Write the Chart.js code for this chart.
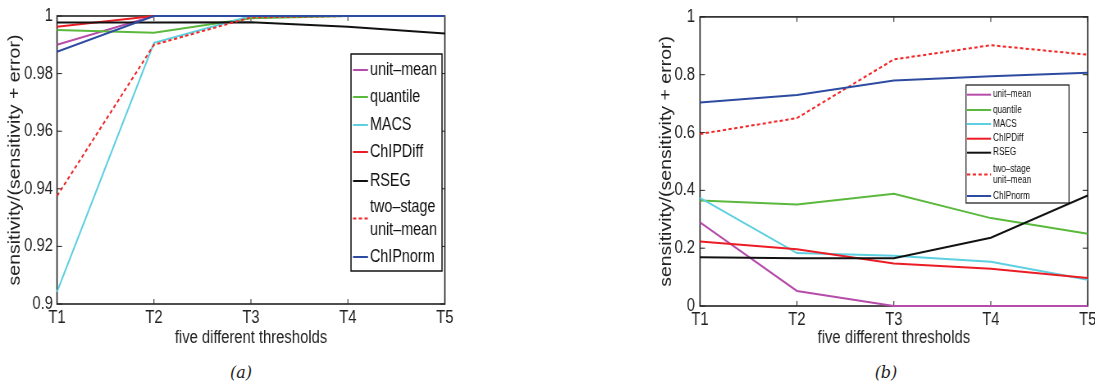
<!DOCTYPE html>
<html>
<head>
<meta charset="utf-8">
<script src="https://cdn.jsdelivr.net/npm/chart.js@4/dist/chart.umd.min.js"></script>
<style>
  html, body { margin: 0; padding: 0; background: #fff; overflow: hidden; }
  body { width: 1095px; height: 382px; position: relative; }
  .panel { position: absolute; top: 0; }
  .panel canvas { transform-origin: 0 0; }
  #panelA { left: 0; }
  #panelB { left: 580px; }
  .cap { position: absolute; top: 363px; width: 40px; text-align: center;
         font: italic 16px 'DejaVu Serif', 'Liberation Serif', serif; color: #222; }
</style>
</head>
<body>
<div class="panel" id="panelA"><canvas id="chartA"></canvas></div>
<div class="panel" id="panelB"><canvas id="chartB"></canvas></div>
<div class="cap" style="left:221px">(a)</div>
<div class="cap" style="left:866px">(b)</div>

<script>
const thresholds = ['T1', 'T2', 'T3', 'T4', 'T5'];
const methods = ['unit–mean', 'quantile', 'MACS', 'ChIPDiff', 'RSEG', ['two–stage', 'unit–mean'], 'ChIPnorm'];

// panel (a): zoomed range 0.9 .. 1
const yTicksA = [0.9, 0.92, 0.94, 0.96, 0.98, 1];
const unitMeanA = [0.990, 1, 1, 1, 1];
const quantileA = [0.9951, 0.9942, 0.9992, 1, 1];
const macsA = [0.9042, 0.9907, 1, 1, 1];
const chipDiffA = [0.9963, 1, 1, 1, 1];
const rsegA = [0.9977, 0.9977, 0.9978, 0.9963, 0.9939];
const twoStageA = [0.9375, 0.9900, 0.9995, 1, 1];
const chipNormA = [0.9876, 1, 1, 1, 1];

// panel (b): full range 0 .. 1
const yTicksB = [0, 0.2, 0.4, 0.6, 0.8, 1];
const unitMeanB = [0.289, 0.052, 0, 0, 0];
const quantileB = [0.365, 0.351, 0.388, 0.304, 0.250];
const macsB = [0.374, 0.183, 0.174, 0.153, 0.091];
const chipDiffB = [0.223, 0.196, 0.147, 0.129, 0.097];
const rsegB = [0.169, 0.165, 0.165, 0.236, 0.382];
const twoStageB = [0.595, 0.650, 0.853, 0.902, 0.869];
const chipNormB = [0.704, 0.730, 0.780, 0.795, 0.807];

const colors = ['#b64ca9', '#5ab83c', '#5ccfe0', '#ec1c24', '#111111', '#f02828', '#2d4ba0'];
const FONT = "'Liberation Sans', Arial, sans-serif";
const INK = '#222';

// canvases are drawn wide and squeezed horizontally to get narrow lettering
const SQ = 0.82;
const cx = v => v / SQ;

function makeDatasets(series) {
  return series.map((data, i) => ({
    label: [].concat(methods[i]).join(' '),
    legendLines: [].concat(methods[i]),
    data,
    borderColor: colors[i],
    backgroundColor: colors[i],
    borderWidth: 2,
    borderDash: i === 5 ? [4, 3] : [],
    pointRadius: 0,
    tension: 0,
    clip: 3,                   // keep lines lying on the box edge fully visible
    order: series.length - i   // later series painted on top
  }));
}

// plot box with inward tick marks on all four sides
const frame = {
  id: 'frame',
  beforeDatasetsDraw(chart) {
    const { ctx, chartArea: a, scales: { x, y } } = chart;
    const t = 5;
    ctx.save();
    ctx.strokeStyle = INK;
    ctx.lineWidth = 1;
    ctx.beginPath();
    x.ticks.forEach((tk, i) => {
      const px = x.getPixelForTick(i);
      ctx.moveTo(px, a.bottom); ctx.lineTo(px, a.bottom - t);
      ctx.moveTo(px, a.top); ctx.lineTo(px, a.top + t);
    });
    y.ticks.forEach(tk => {
      const py = y.getPixelForValue(tk.value);
      ctx.moveTo(a.left, py); ctx.lineTo(a.left + cx(t), py);
      ctx.moveTo(a.right, py); ctx.lineTo(a.right - cx(t), py);
    });
    ctx.stroke();
    ctx.lineWidth = 1.6;
    ctx.strokeRect(a.left, a.top, a.right - a.left, a.bottom - a.top);
    ctx.restore();
  }
};

// boxed legend placed inside the plot
const boxLegend = {
  id: 'boxLegend',
  afterDraw(chart, args, o) {
    const ctx = chart.ctx;
    const left = cx(o.left), width = cx(o.width);
    ctx.save();
    ctx.fillStyle = '#fff';
    ctx.fillRect(left, o.top, width, o.height);
    ctx.strokeStyle = '#111';
    ctx.lineWidth = o.borderWidth;
    ctx.strokeRect(left, o.top, width, o.height);
    ctx.font = o.fontSize + 'px ' + FONT;
    ctx.textBaseline = 'middle';
    ctx.textAlign = 'left';
    chart.data.datasets.forEach((ds, i) => {
      const rows = [].concat(o.rows[i]);
      const mid = rows.reduce((s, r) => s + r, 0) / rows.length;
      ctx.strokeStyle = ds.borderColor;
      ctx.lineWidth = o.lineWidth;
      ctx.setLineDash(ds.borderDash);
      ctx.beginPath();
      ctx.moveTo(left + cx(o.sample[0]), o.top + mid);
      ctx.lineTo(left + cx(o.sample[1]), o.top + mid);
      ctx.stroke();
      ctx.setLineDash([]);
      ctx.fillStyle = '#111';
      ds.legendLines.forEach((txt, k) => {
        ctx.fillText(txt, left + cx(o.textX), o.top + rows[k]);
      });
    });
    ctx.restore();
  }
};

function makeChart(id, series, yTicks, dims, legend) {
  const fmt = v => String(+v.toFixed(2));
  const el = document.getElementById(id);
  el.width = Math.round(cx(dims.width));
  el.height = dims.height;
  el.style.transform = 'scaleX(' + SQ + ')';
  const p = dims.padding;
  const tickFont = { family: FONT, size: 18 };
  return new Chart(el, {
    type: 'line',
    data: { labels: thresholds, datasets: makeDatasets(series) },
    plugins: [frame, boxLegend],
    options: {
      responsive: false,
      animation: false,
      layout: { padding: { left: cx(p.left), right: cx(p.right), top: p.top, bottom: p.bottom } },
      plugins: {
        legend: { display: false },
        tooltip: { enabled: false },
        boxLegend: legend
      },
      scales: {
        x: {
          offset: false,
          grid: { display: false, drawTicks: false },
          border: { display: false },
          ticks: { color: INK, font: tickFont, padding: dims.xTickPad,
                   maxRotation: 0, autoSkip: false },
          title: { display: true, text: 'five different thresholds', color: INK,
                   font: { family: FONT, size: 18 }, padding: { top: 0, bottom: dims.xTitlePad } },
          afterFit: s => { s.height = dims.xHeight; }
        },
        y: {
          min: yTicks[0],
          max: yTicks[yTicks.length - 1],
          grid: { display: false, drawTicks: false },
          border: { display: false },
          afterBuildTicks: s => { s.ticks = yTicks.map(v => ({ value: v })); },
          ticks: { color: INK, font: tickFont, padding: cx(dims.yTickPad),
                   callback: fmt },
          title: { display: true, text: 'sensitivity/(sensitivity + error)', color: INK,
                   font: { family: FONT, size: 19.5 }, padding: { top: 0, bottom: 0 } },
          afterFit: s => { s.width = cx(dims.yWidth); }
        }
      }
    }
  });
}

makeChart('chartA',
  [unitMeanA, quantileA, macsA, chipDiffA, rsegA, twoStageA, chipNormA],
  yTicksA,
  { width: 470, height: 350,
    padding: { left: 6, top: 16, right: 25, bottom: 0 }, yWidth: 51, xHeight: 46,
    xTickPad: 3, xTitlePad: 1, yTickPad: 4 },
  { left: 351, top: 54, width: 91, height: 217, borderWidth: 1.5, lineWidth: 2,
    fontSize: 17.5, sample: [2, 17], textX: 19,
    rows: [16, 43, 71, 98, 127, [153, 176], 203] });

makeChart('chartB',
  [unitMeanB, quantileB, macsB, chipDiffB, rsegB, twoStageB, chipNormB],
  yTicksB,
  { width: 530, height: 350,
    padding: { left: 77, top: 16, right: 22, bottom: 0 }, yWidth: 43, xHeight: 44,
    xTickPad: 3, xTitlePad: 1, yTickPad: 5 },
  { left: 386, top: 85, width: 103, height: 118, borderWidth: 1.2, lineWidth: 2,
    fontSize: 10, sample: [1, 25], textX: 27,
    rows: [9.7, 25, 39, 53.7, 67.7, [84, 95], 111] });
</script>
</body>
</html>
